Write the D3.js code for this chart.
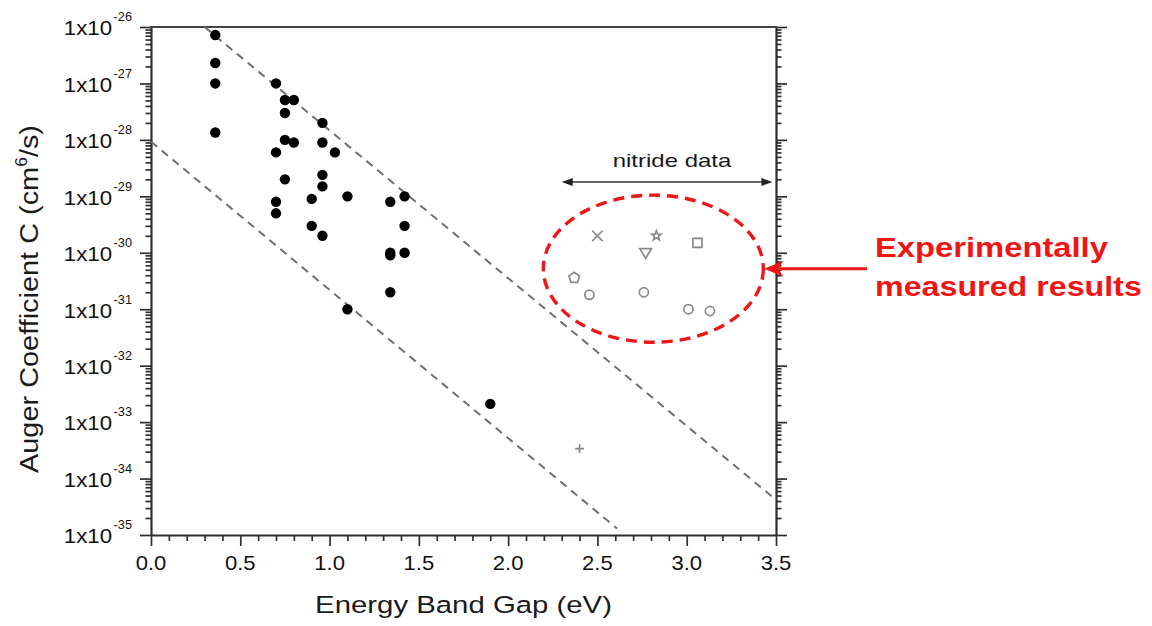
<!DOCTYPE html>
<html><head><meta charset="utf-8">
<script src="https://cdn.jsdelivr.net/npm/d3@7"></script>
<style>
body{margin:0;background:#fff}
svg{display:block}
text{font-family:"Liberation Sans",Arial,Helvetica,sans-serif}
</style>
</head><body>
<svg id="c" width="1152" height="626"></svg>
<script>
// ---- data ----
const bandGap = [0.36,0.36,0.36,0.36,0.70,0.75,0.80,0.75,0.96,0.75,0.80,0.70,0.96,1.03,0.75,0.96,0.96,1.10,1.42,1.34,0.70,0.70,0.90,0.90,0.96,1.42,1.34,1.34,1.42,1.34,1.10,1.90];
const augerC  = [7.2e-27,2.3e-27,1e-27,1.35e-28,1e-27,5.1e-28,5.1e-28,3e-28,2e-28,1e-28,9e-29,6e-29,9e-29,6e-29,2e-29,2.4e-29,1.5e-29,1e-29,1e-29,8e-30,8e-30,5e-30,9e-30,3e-30,2e-30,3e-30,1e-30,9e-31,1e-30,2e-31,1e-31,2.1e-33];

const nitrideE = [2.50,2.83,3.06,2.77,2.37,2.455,2.76,3.01,3.13,2.40];
const nitrideC = [2e-30,2e-30,1.5e-30,1e-30,3.6e-31,1.8e-31,2e-31,1e-31,9.3e-32,3.4e-34];
const nitrideSym = ["times","star","square","triangleDown","pentagon","circle","circle","circle","circle","plus"];

const upperLineE = [0.30, 3.50];
const upperLineC = [1e-26, 4.2e-35];
const lowerLineE = [0.00, 2.61];
const lowerLineC = [9.3e-29, 1.3e-35];

const xTicks = [0,0.5,1,1.5,2,2.5,3,3.5];
const yExponents = [-26,-27,-28,-29,-30,-31,-32,-33,-34,-35];

const nitrideRangeE = [2.30, 3.48];
const nitrideRangeC = 1.8e-29;
const nitrideLabelC = 3.3e-29;
const ellipseE = [2.197, 3.429];
const ellipseC = [1.05e-29, 2.6e-32];

// ---- scales ----
const svg = d3.select("#c");
const x = d3.scaleLinear().domain([0,3.5]).range([151,776]);
const y = d3.scaleLog().domain([1e-35,1e-26]).range([535,27]);

const axisColor = "#2e2e2e";
const majorY = yExponents.map(e => +("1e" + e));
const minorY = [];
for (let e = -35; e < -26; e++) for (let k = 2; k <= 9; k++) minorY.push(+(k + "e" + e));
const minorX = d3.range(0, 36).map(i => i / 10).filter(v => !xTicks.some(t => Math.abs(t - v) < 1e-9));

function styleAxis(g, keepDomain) {
  g.selectAll(".tick line").attr("stroke", axisColor).attr("stroke-width", 1.7);
  if (keepDomain) g.select(".domain").attr("stroke", axisColor).attr("stroke-width", 2.2);
  else g.select(".domain").remove();
  g.selectAll(".tick text").remove();
}

// left axis
svg.append("g").attr("transform","translate(151,0)")
  .call(d3.axisLeft(y).tickValues(majorY).tickSize(11).tickSizeOuter(0).tickFormat(""))
  .call(g => styleAxis(g, true));
svg.append("g").attr("transform","translate(151,0)")
  .call(d3.axisLeft(y).tickValues(minorY).tickSize(5.5).tickFormat(""))
  .call(g => styleAxis(g, false));
// right axis
svg.append("g").attr("transform","translate(776,0)")
  .call(d3.axisRight(y).tickValues(majorY).tickSize(11).tickSizeOuter(0).tickFormat(""))
  .call(g => styleAxis(g, true));
svg.append("g").attr("transform","translate(776,0)")
  .call(d3.axisRight(y).tickValues(minorY).tickSize(5.5).tickFormat(""))
  .call(g => styleAxis(g, false));
// bottom axis
svg.append("g").attr("transform","translate(0,535)")
  .call(d3.axisBottom(x).tickValues(xTicks).tickSize(11).tickSizeOuter(0).tickFormat(""))
  .call(g => styleAxis(g, true));
svg.append("g").attr("transform","translate(0,535)")
  .call(d3.axisBottom(x).tickValues(minorX).tickSize(6).tickFormat(""))
  .call(g => styleAxis(g, false));
// top frame line
svg.append("line").attr("x1",x(0)-1).attr("x2",x(3.5)+1).attr("y1",y(1e-26)).attr("y2",y(1e-26))
  .attr("stroke","#444").attr("stroke-width",2.2);

// helper: text stretched horizontally to a target width
function fitText(sel, target) {
  sel.each(function(){
    const w = this.getBBox().width;
    if (w > 0) d3.select(this).attr("transform", `scale(${target / w},1)`);
  });
}

// y tick labels
yExponents.forEach(e => {
  const g = svg.append("g").attr("transform", `translate(132,${y(+("1e"+e)) + 8.3})`);
  const t = g.append("text").attr("text-anchor","end").attr("fill","#111")
    .attr("transform","scale(1.06,1)");
  t.append("tspan").attr("font-size",21).text("1x10");
  t.append("tspan").attr("font-size",12).attr("dx",1.5).attr("dy",-14).text(String(e));
});

// x tick labels
xTicks.forEach(v => {
  const g = svg.append("g").attr("transform", `translate(${x(v)},570)`);
  g.append("text").attr("text-anchor","middle").attr("font-size",21).attr("fill","#111")
    .attr("transform","scale(1.05,1)").text(d3.format(".1f")(v));
});

// axis titles
{
  const g = svg.append("g").attr("transform", `translate(${(x(0)+x(3.5))/2},613)`);
  g.append("text").attr("text-anchor","middle").attr("font-size",23.5).attr("fill","#1a1a1a")
    .text("Energy Band Gap (eV)").call(fitText, 297);
}
{
  const g = svg.append("g").attr("transform", `translate(37.5,299) rotate(-90)`);
  const t = g.append("text").attr("text-anchor","middle").attr("font-size",26.5).attr("fill","#1a1a1a");
  t.append("tspan").text("Auger Coefficient C (cm");
  t.append("tspan").attr("font-size",16).attr("dy",-11).text("6");
  t.append("tspan").attr("dy",11).text("/s)");
  fitText(t, 348);
}

// dashed guide lines
const line = d3.line().x(d => x(d[0])).y(d => y(d[1]));
[[upperLineE, upperLineC],[lowerLineE, lowerLineC]].forEach(([es, cs]) => {
  svg.append("path").attr("d", line(es.map((e,i)=>[e, cs[i]])))
    .attr("fill","none").attr("stroke","#6f6f6f").attr("stroke-width",2)
    .attr("stroke-dasharray","8,6");
});

// black dots
svg.append("g").selectAll("circle").data(bandGap.map((e,i)=>[e, augerC[i]])).join("circle")
  .attr("cx", d => x(d[0])).attr("cy", d => y(d[1])).attr("r", 5.2).attr("fill","#000");

// nitride markers
function symPath(type) {
  const p = [];
  if (type === "times") return "M-5.3,-5.3L5.3,5.3M-5.3,5.3L5.3,-5.3";
  if (type === "plus") return "M-4.5,0L4.5,0M0,-4.5L0,4.5";
  if (type === "square") return "M-4.5,-4.5H4.5V4.5H-4.5Z";
  if (type === "triangleDown") return "M-5.8,-4.2L5.8,-4.2L0,5.6Z";
  if (type === "circle") return "M4.6,0A4.6,4.6 0 1 1 -4.6,0A4.6,4.6 0 1 1 4.6,0Z";
  if (type === "pentagon") {
    for (let i = 0; i < 5; i++) { const a = -Math.PI/2 + i*2*Math.PI/5; p.push([5.6*Math.cos(a), 5.6*Math.sin(a)]); }
    return "M" + p.map(q => q.map(v=>v.toFixed(2)).join(",")).join("L") + "Z";
  }
  if (type === "star") {
    for (let i = 0; i < 10; i++) { const a = -Math.PI/2 + i*Math.PI/5; const r = i % 2 ? 2.1 : 5.0; p.push([r*Math.cos(a), r*Math.sin(a)]); }
    return "M" + p.map(q => q.map(v=>v.toFixed(2)).join(",")).join("L") + "Z";
  }
}
svg.append("g").selectAll("path").data(nitrideE.map((e,i)=>[e, nitrideC[i], nitrideSym[i]])).join("path")
  .attr("transform", d => `translate(${x(d[0])},${y(d[1])})`)
  .attr("d", d => symPath(d[2]))
  .attr("fill","none").attr("stroke","#8a8a8a").attr("stroke-width",1.7);

// nitride data bracket arrow
{
  const ay = y(nitrideRangeC), ax1 = x(nitrideRangeE[0]), ax2 = x(nitrideRangeE[1]);
  svg.append("line").attr("x1",ax1+6).attr("x2",ax2-6).attr("y1",ay).attr("y2",ay)
    .attr("stroke","#333").attr("stroke-width",1.5);
  svg.append("path").attr("d",`M${ax1},${ay}L${ax1+11},${ay-4}L${ax1+11},${ay+4}Z`).attr("fill","#222");
  svg.append("path").attr("d",`M${ax2},${ay}L${ax2-11},${ay-4}L${ax2-11},${ay+4}Z`).attr("fill","#222");
  const g = svg.append("g").attr("transform",`translate(672,${y(nitrideLabelC)})`);
  g.append("text").attr("text-anchor","middle").attr("font-size",18).attr("fill","#1a1a1a")
    .text("nitride data").call(fitText, 120);
}

// red dashed ellipse
const exl = x(ellipseE[0]), exr = x(ellipseE[1]);
const eyt = y(ellipseC[0]), eyb = y(ellipseC[1]);
const ecx = (exl+exr)/2, ecy = (eyt+eyb)/2;
svg.append("ellipse").attr("cx",ecx).attr("cy",ecy).attr("rx",(exr-exl)/2).attr("ry",(eyb-eyt)/2)
  .attr("fill","none").attr("stroke","#f01515").attr("stroke-width",3.4).attr("stroke-dasharray","11,7");

// red arrow + annotation
{
  const tip = exr + 1;
  svg.append("line").attr("x1",867).attr("x2",tip+14).attr("y1",ecy).attr("y2",ecy)
    .attr("stroke","#f01515").attr("stroke-width",3);
  svg.append("path").attr("d",`M${tip},${ecy}L${tip+19},${ecy-8}L${tip+14},${ecy}L${tip+19},${ecy+8}Z`)
    .attr("fill","#f01515");
  const g1 = svg.append("g").attr("transform","translate(875,257)");
  g1.append("text").attr("font-size",27).attr("font-weight","bold").attr("fill","#f01515")
    .text("Experimentally").call(fitText, 233);
  const g2 = svg.append("g").attr("transform","translate(875,296)");
  g2.append("text").attr("font-size",27).attr("font-weight","bold").attr("fill","#f01515")
    .text("measured results").call(fitText, 267);
}
</script>
</body></html>
